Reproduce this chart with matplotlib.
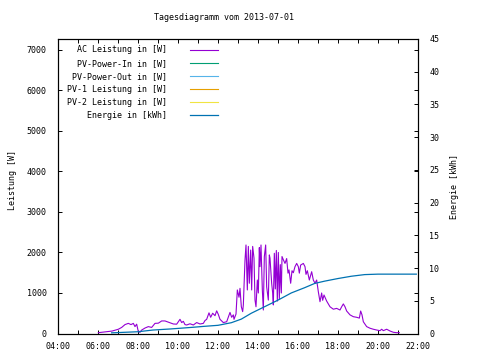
import matplotlib
matplotlib.use("Agg")
import matplotlib.pyplot as plt
import numpy as np

# AC Leistung [W] (time of day, value)
ac_times = ["06:01", "06:21", "06:42", "06:51", "07:01", "07:11", "07:21", "07:31", "07:39", "07:46",
            "07:51", "07:56", "08:01", "08:06", "08:11", "08:21", "08:31", "08:41", "08:51", "09:01",
            "09:11", "09:21", "09:31", "09:41", "09:46", "09:56", "10:06", "10:11", "10:16", "10:21",
            "10:26", "10:36", "10:46", "10:56", "11:06", "11:16", "11:21", "11:26", "11:33", "11:38",
            "11:44", "11:51", "11:56", "12:01", "12:06", "12:16", "12:26", "12:36", "12:41", "12:46",
            "12:48", "12:54", "12:58", "13:03", "13:06", "13:10", "13:14", "13:16", "13:21", "13:24",
            "13:28", "13:31", "13:34", "13:38", "13:41", "13:44", "13:48", "13:51", "13:54", "13:58",
            "14:01", "14:04", "14:06", "14:09", "14:13", "14:16", "14:19", "14:23", "14:26", "14:31",
            "14:34", "14:36", "14:41", "14:44", "14:46", "14:49", "14:52", "14:55", "14:58", "15:01",
            "15:04", "15:07", "15:10", "15:12", "15:16", "15:21", "15:26", "15:30", "15:33", "15:38",
            "15:42", "15:46", "15:51", "15:56", "16:01", "16:04", "16:08", "16:16", "16:21", "16:24",
            "16:28", "16:34", "16:41", "16:46", "16:51", "16:56", "17:01", "17:06", "17:11", "17:14",
            "17:18", "17:26", "17:36", "17:46", "17:56", "18:06", "18:11", "18:16", "18:21", "18:26",
            "18:36", "18:46", "18:56", "19:04", "19:08", "19:12", "19:16", "19:26", "19:36", "19:46",
            "19:56", "20:06", "20:11", "20:16", "20:26", "20:36", "20:46", "20:56", "21:04"]
ac_power = [20, 40, 60, 80, 105, 150, 220, 250, 220, 250,
            170, 230, 45, 30, 85, 135, 170, 150, 250, 255,
            310, 310, 280, 250, 235, 230, 350, 270, 300, 220,
            210, 240, 210, 270, 235, 250, 320, 350, 510, 400,
            500, 440, 560, 470, 350, 270, 290, 520, 400, 460,
            350, 480, 1075, 895, 1115, 660, 540, 705, 1815, 2185,
            1075, 2150, 1240, 2060, 1075, 2150, 1860, 825, 660, 1320,
            1000, 2120, 1650, 2185, 1075, 580, 1900, 2185, 1150, 825,
            1940, 1860, 1240, 1000, 705, 1980, 1100, 2050, 800, 2000,
            850, 1700, 1000, 1900, 1820, 1730, 1850, 1490, 1570, 1240,
            1550, 1500, 1650, 1730, 1650, 1490, 1690, 1730, 1650, 1460,
            1550, 1320, 1525, 1320, 1240, 1320, 1030, 785, 1000, 820,
            950, 800, 660, 600, 620, 580, 660, 730, 660, 555,
            460, 415, 400, 380, 555, 460, 290, 170, 130, 105,
            86, 70, 105, 70, 105, 62, 30, 20, 20]

# Energie [kWh]
en_times = ["06:41", "08:00", "08:45", "09:36", "10:06", "10:45", "11:20", "12:00", "12:40", "13:10",
            "13:40", "14:20", "15:00", "15:40", "16:20", "16:50", "17:20", "18:00", "18:40", "19:20",
            "20:00", "21:55"]
energy = [0.1, 0.27, 0.53, 0.69, 0.8, 0.95, 1.1, 1.25, 1.65, 2.2,
          3.1, 4.1, 5.1, 6.2, 7.0, 7.65, 8.0, 8.4, 8.75, 9.0,
          9.07, 9.07]

# no data for these in the reference, only legend entries
pv_in = []
pv_out = []
pv1 = []
pv2 = []

hour_ticks = list(range(4, 23, 2))
hour_labels = ["%02d:00" % h for h in hour_ticks]


def to_hours(t):
    h, m = t.split(":")
    return int(h) + int(m) / 60.0


font = "DejaVu Sans Mono"
fs = 6
plt.rcParams['font.family'] = font
plt.rcParams['font.size'] = fs

fig = plt.figure(figsize=(4.8, 3.6), dpi=100)
ax = fig.add_axes([58 / 480, 1 - 333.5 / 360, 360 / 480, 294.5 / 360])
ax2 = ax.twinx()

t_ac = [to_hours(t) for t in ac_times]
t_en = [to_hours(t) for t in en_times]

l1, = ax.plot(t_ac, ac_power, color="#9400D3", lw=0.8, label="AC Leistung in [W]")
l2, = ax.plot(pv_in, pv_in, color="#009E73", lw=0.8, label="PV-Power-In in [W]")
l3, = ax.plot(pv_out, pv_out, color="#56B4E9", lw=0.8, label="PV-Power-Out in [W]")
l4, = ax.plot(pv1, pv1, color="#E69F00", lw=0.8, label="PV-1 Leistung in [W]")
l5, = ax.plot(pv2, pv2, color="#F0E442", lw=0.8, label="PV-2 Leistung in [W]")
l6, = ax2.plot(t_en, energy, color="#0072B2", lw=0.9, label="Energie in [kWh]")

ax.set_xlim(4, 22)
ax.set_ylim(0, 7270)
ax2.set_ylim(0, 45)

ax.set_xticks(hour_ticks)
ax.set_xticklabels(hour_labels)
ax.set_xticks(range(4, 23), minor=True)
ax.set_yticks(range(0, 7001, 1000))
ax2.set_yticks(range(0, 46, 5))

ax.tick_params(which="both", direction="in", length=3, width=0.7, top=True, right=True,
               labelsize=fs, pad=6)
ax.tick_params(axis="y", pad=8)
ax2.tick_params(direction="in", length=3, width=0.7, labelsize=fs, pad=8)

for a in (ax, ax2):
    for s in a.spines.values():
        s.set_linewidth(0.8)

ax.set_ylabel("Leistung [W]", fontsize=fs)
ax2.set_ylabel("Energie [kWh]", fontsize=fs)
ax.yaxis.set_label_coords(-0.115, 0.52)
ax2.yaxis.set_label_coords(1.088, 0.5)

fig.text(224 / 480, 1 - 18 / 360, "Tagesdiagramm vom 2013-07-01", ha="center", va="center", fontsize=fs)

ax2.legend(handles=[l1, l2, l3, l4, l5, l6], loc="upper right", bbox_to_anchor=(0.444, 0.978),
           frameon=False, markerfirst=False, borderpad=0, borderaxespad=0,
           handlelength=3.4, handletextpad=2.7, labelspacing=0.5, fontsize=fs)

fig.savefig("out.png", dpi=100)
